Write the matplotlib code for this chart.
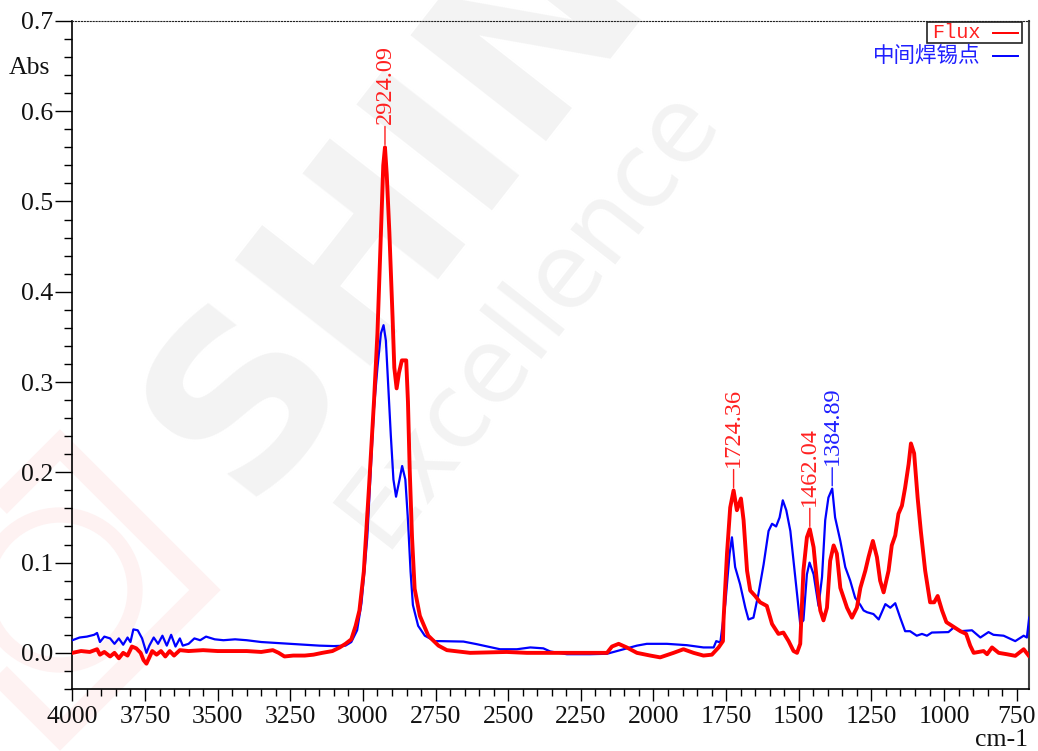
import matplotlib
matplotlib.use("Agg")
import matplotlib.pyplot as plt
from matplotlib.patches import Polygon, Circle, Rectangle
from matplotlib.lines import Line2D
from matplotlib.ticker import MultipleLocator, FormatStrFormatter

# Flux 光谱 (cm-1, Abs)
flux_wn = [4000, 3970, 3940, 3915, 3905, 3890, 3870, 3855, 3840, 3825, 3810, 3795,
           3780, 3765, 3755, 3745, 3735, 3725, 3710, 3695, 3680, 3665, 3650, 3630,
           3600, 3550, 3500, 3450, 3400, 3350, 3310, 3290, 3270, 3240, 3200, 3170,
           3140, 3105, 3080, 3060, 3040, 3025, 3012, 2997, 2979, 2962, 2950, 2938,
           2930, 2924.09, 2918, 2909, 2898, 2892, 2884, 2876, 2866, 2851, 2845, 2839,
           2831, 2822, 2804, 2775, 2740, 2711, 2631, 2505, 2436, 2275, 2160, 2143,
           2120, 2092, 2057, 2011, 1977, 1931, 1897, 1862, 1828, 1799, 1776, 1761,
           1759, 1747, 1736, 1724.36, 1713, 1699, 1690, 1678, 1667, 1650, 1633, 1610,
           1592, 1570, 1553, 1535, 1518, 1506, 1495, 1484, 1472, 1462.04, 1449, 1438,
           1426, 1415, 1403, 1392, 1380, 1369, 1357, 1334, 1317, 1300, 1288, 1271,
           1260, 1245, 1231, 1220, 1208, 1191, 1180, 1168, 1157, 1145, 1134, 1122,
           1114, 1103, 1091, 1080, 1065, 1048, 1034, 1022, 1007, 992, 973, 944,
           924, 910, 898, 864, 852, 835, 812, 784, 755, 726, 709]
flux_abs = [0.000, 0.002, 0.001, 0.004, -0.002, 0.001, -0.004, 0.000, -0.006, 0.000, -0.003, 0.007,
            0.005, 0.000, -0.008, -0.012, -0.005, 0.002, -0.002, 0.002, -0.004, 0.002, -0.003, 0.003,
            0.002, 0.003, 0.002, 0.002, 0.002, 0.001, 0.003, 0.000, -0.004, -0.003, -0.003, -0.002,
            0.000, 0.002, 0.006, 0.010, 0.015, 0.030, 0.047, 0.090, 0.184, 0.278, 0.354, 0.466,
            0.540, 0.560, 0.530, 0.466, 0.372, 0.316, 0.293, 0.310, 0.324, 0.324, 0.278, 0.203,
            0.128, 0.071, 0.041, 0.019, 0.008, 0.003, 0.000, 0.001, 0.000, 0.000, 0.000, 0.007,
            0.010, 0.006, 0.000, -0.003, -0.005, 0.000, 0.004, 0.000, -0.003, -0.002, 0.006, 0.013,
            0.036, 0.110, 0.161, 0.180, 0.158, 0.171, 0.147, 0.091, 0.069, 0.063, 0.056, 0.052,
            0.032, 0.021, 0.0225, 0.013, 0.002, 0.000, 0.010, 0.091, 0.128, 0.137, 0.117, 0.080,
            0.047, 0.036, 0.050, 0.102, 0.119, 0.110, 0.072, 0.050, 0.039, 0.050, 0.072, 0.091,
            0.106, 0.124, 0.106, 0.080, 0.067, 0.091, 0.119, 0.130, 0.154, 0.163, 0.183, 0.209,
            0.232, 0.221, 0.172, 0.135, 0.091, 0.056, 0.056, 0.063, 0.047, 0.034, 0.030, 0.024,
            0.021, 0.008, 0.000, 0.002, -0.0015, 0.006, 0.000, -0.0015, -0.0033, 0.004, -0.003]

# 中间焊锡点 光谱
joint_wn = [4000, 3975, 3950, 3925, 3915, 3905, 3890, 3870, 3855, 3840, 3825, 3810,
            3800, 3790, 3775, 3760, 3745, 3735, 3720, 3705, 3690, 3675, 3660, 3645,
            3630, 3620, 3600, 3580, 3560, 3540, 3510, 3480, 3440, 3400, 3350, 3300,
            3250, 3200, 3150, 3100, 3060, 3040, 3020, 3005, 2995, 2985, 2973, 2962,
            2950, 2938, 2929, 2921, 2913, 2904, 2895, 2886, 2874, 2865, 2854, 2845,
            2836, 2828, 2810, 2787, 2752, 2734, 2654, 2608, 2528, 2470, 2424, 2379,
            2355, 2298, 2218, 2160, 2126, 2057, 2023, 1954, 1885, 1828, 1793, 1784,
            1770, 1753, 1738, 1730, 1719, 1702, 1684, 1673, 1656, 1639, 1621, 1604,
            1592, 1578, 1566, 1555, 1543, 1529, 1512, 1495, 1484, 1472, 1463, 1449,
            1432, 1420, 1409, 1398, 1384.89, 1375, 1357, 1340, 1323, 1306, 1288, 1277,
            1265, 1243, 1225, 1202, 1185, 1168, 1151, 1134, 1117, 1094, 1076, 1059,
            1042, 985, 967, 944, 904, 875, 847, 830, 795, 755, 726, 715, 707]
joint_abs = [0.014, 0.017, 0.018, 0.020, 0.022, 0.012, 0.018, 0.016, 0.010, 0.016, 0.009, 0.017,
             0.012, 0.026, 0.025, 0.016, 0.000, 0.008, 0.017, 0.010, 0.019, 0.008, 0.020, 0.007,
             0.016, 0.008, 0.010, 0.016, 0.014, 0.018, 0.015, 0.014, 0.015, 0.014, 0.012, 0.011,
             0.010, 0.009, 0.008, 0.0075, 0.008, 0.012, 0.025, 0.055, 0.090, 0.128, 0.203, 0.271,
             0.316, 0.354, 0.363, 0.346, 0.297, 0.241, 0.192, 0.173, 0.192, 0.207, 0.192, 0.147,
             0.090, 0.053, 0.030, 0.019, 0.013, 0.013, 0.0125, 0.0096, 0.004, 0.004, 0.006, 0.005,
             0.0015, -0.0015, -0.0015, -0.001, 0.002, 0.008, 0.010, 0.010, 0.0085, 0.006, 0.006, 0.013,
             0.0115, 0.054, 0.110, 0.128, 0.095, 0.076, 0.050, 0.037, 0.039, 0.065, 0.098, 0.135,
             0.143, 0.140, 0.150, 0.169, 0.158, 0.135, 0.084, 0.032, 0.036, 0.087, 0.100, 0.087,
             0.052, 0.084, 0.147, 0.172, 0.182, 0.150, 0.124, 0.095, 0.080, 0.061, 0.053, 0.047,
             0.045, 0.043, 0.037, 0.054, 0.050, 0.055, 0.039, 0.024, 0.024, 0.019, 0.021, 0.019,
             0.0225, 0.023, 0.028, 0.024, 0.025, 0.017, 0.023, 0.020, 0.019, 0.013, 0.019, 0.017, 0.039]

# 峰标注: (波数, 峰高, 颜色)
peaks_wn = [2924.09, 1724.36, 1462.04, 1384.89]
peaks_abs = [0.560, 0.180, 0.137, 0.182]
peaks_color = ["#ff2020", "#ff2020", "#ff2020", "#2020ff"]

RED = "#ff0000"
BLUE = "#0000ff"
SERIF = ["Liberation Serif", "Noto Sans CJK SC", "DejaVu Sans"]


def main():
    plt.rcParams["font.family"] = SERIF
    plt.rcParams["axes.unicode_minus"] = False

    fig = plt.figure(figsize=(10.38, 7.51), dpi=100)
    fig.patch.set_facecolor("white")

    # 背景水印
    wm = "#f3f3f3"
    fig.text(0.238, 0.33, "SHINE", fontsize=170, fontweight="bold", color=wm,
             family="DejaVu Sans", rotation=52, rotation_mode="anchor",
             ha="left", va="baseline", zorder=-10)
    fig.text(0.51, 0.58, "Excellence", fontsize=74, color=wm, family="DejaVu Sans",
             rotation=52, rotation_mode="anchor", ha="center", va="center", zorder=-10)
    tr = fig.dpi_scale_trans
    cx, cy = 0.6, 1.61
    fig.patches.append(Polygon([(cx - 1.45, cy), (cx, cy + 1.45), (cx + 1.45, cy), (cx, cy - 1.45)],
                               closed=True, fill=False, edgecolor="#fef2f2", lw=16,
                               transform=tr, zorder=-10))
    fig.patches.append(Circle((cx, cy), 0.75, fill=False, edgecolor="#fef2f2", lw=11,
                              transform=tr, zorder=-10))

    ax = fig.add_axes([0.0697, 0.0826, 0.9221, 0.8895])
    ax.set_facecolor("none")

    ax.plot(joint_wn, joint_abs, color=BLUE, lw=1.6, solid_joinstyle="round", zorder=3)
    ax.plot(flux_wn, flux_abs, color=RED, lw=2.8, solid_joinstyle="round", zorder=4)

    for wn, a, c in zip(peaks_wn, peaks_abs, peaks_color):
        ax.annotate(f"{wn:.2f}", xy=(wn, a), xytext=(0, 17), textcoords="offset points",
                    rotation=90, ha="center", va="bottom", color=c, fontsize=17.5,
                    arrowprops=dict(arrowstyle="-", color=c, lw=1.0, shrinkA=0, shrinkB=2))

    ax.set_xlim(4000, 706)
    ax.set_ylim(-0.04, 0.7)
    ax.xaxis.set_major_locator(MultipleLocator(250))
    ax.xaxis.set_minor_locator(MultipleLocator(50))
    ax.yaxis.set_major_locator(MultipleLocator(0.1))
    ax.yaxis.set_minor_locator(MultipleLocator(0.02))
    ax.yaxis.set_major_formatter(FormatStrFormatter("%.1f"))

    ax.tick_params(axis="both", which="both", direction="out", width=1.0, color="black",
                   labelsize=18.5, labelcolor="#111111")
    ax.tick_params(axis="y", which="major", length=12, pad=1.5)
    ax.tick_params(axis="y", which="minor", length=6)
    ax.tick_params(axis="x", which="major", length=8.5, pad=4)
    ax.tick_params(axis="x", which="minor", length=5)

    for side in ("left", "bottom"):
        ax.spines[side].set_linewidth(1.2)
        ax.spines[side].set_color("black")
    ax.spines["right"].set_linewidth(1.5)
    ax.spines["right"].set_color("#444444")
    ax.spines["top"].set_linewidth(0.8)
    ax.spines["top"].set_linestyle(":")
    ax.spines["top"].set_color("#222222")

    ax.text(-0.023, 0.648, "Abs", transform=ax.get_yaxis_transform(), ha="right",
            va="center", fontsize=18.5, color="#111111")
    fig.text(0.990, 0.0146, "cm-1", ha="right", va="center", fontsize=18.5, color="#111111")

    # 图例
    ax.add_patch(Rectangle((0.893, 0.967), 0.0992, 0.0314, transform=ax.transAxes,
                           fill=False, edgecolor="#222222", lw=1.2, clip_on=False, zorder=5))
    ax.text(0.949, 0.982, "Flux", transform=ax.transAxes, ha="right", va="center",
            fontsize=14.5, color="#ff2020", family="Liberation Mono", zorder=6)
    ax.add_line(Line2D([0.962, 0.988], [0.982, 0.982], transform=ax.transAxes,
                       color=RED, lw=1.4, zorder=6))
    ax.text(0.949, 0.9476, "中间焊锡点", transform=ax.transAxes, ha="right", va="center",
            fontsize=15.5, color="#2020ff", family="Noto Sans CJK SC", zorder=6)
    ax.add_line(Line2D([0.962, 0.988], [0.9476, 0.9476], transform=ax.transAxes,
                       color=BLUE, lw=1.4, zorder=6))

    fig.savefig("out.png", dpi=100)


if __name__ == "__main__":
    main()
